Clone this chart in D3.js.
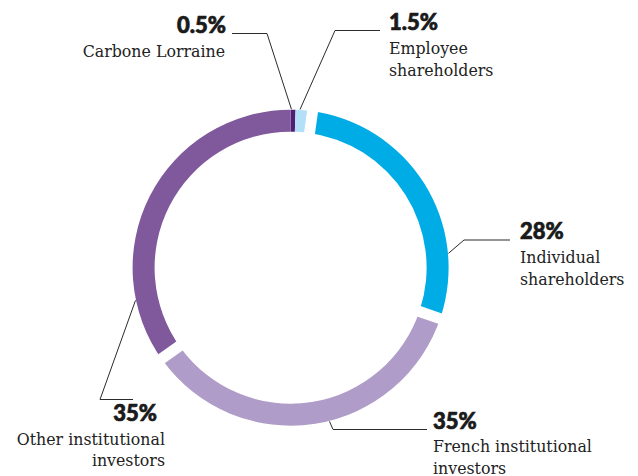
<!DOCTYPE html>
<html>
<head>
<meta charset="utf-8">
<script src="https://cdn.jsdelivr.net/npm/d3@7"></script>
<style>
  html, body { margin: 0; padding: 0; background: #fff; }
  svg { display: block; }
  .pct { font-family: Lato, "Open Sans", sans-serif; font-weight: 900; font-size: 22px; fill: #1a1a1a; stroke: #1a1a1a; stroke-width: 0.7px; }
  .lbl { font-family: "DejaVu Serif", serif; font-size: 15.8px; fill: #222; }
</style>
</head>
<body>
<script>
// ---- data ----
const categories = ["Carbone Lorraine", "Employee shareholders", "Individual shareholders", "French institutional investors", "Other institutional investors"];
const shares = [0.5, 1.5, 28, 35, 35];
const pctLabels = ["0.5%", "1.5%", "28%", "35%", "35%"];
const labelLines = [["Carbone Lorraine"], ["Employee", "shareholders"], ["Individual", "shareholders"], ["French institutional", "investors"], ["Other institutional", "investors"]];
const colors = ["#4e1f73", "#b3dff7", "#00ace6", "#b09cc8", "#80589c"];

// ---- layout ----
const W = 638, H = 476;
const cx = 290.6, cy = 267.7, rOuter = 158, rInner = 136;
const gapAfter = [false, true, true, true, false]; // white separators after these slices
const gapShift = 0.8 * Math.PI / 180;

// label layout: leader angle (deg), elbow, horizontal end, text anchor
const labelLayout = [
  { ang: 0.3, elbow: [267, 33.5], hEnd: [232, 33.5], anchor: "end", pct: [226, 33], lines: [225, 57], lh: 22 },
  { ang: 3.4, elbow: [335, 30.5], hEnd: [380, 30.5], anchor: "start", pct: [389, 30], lines: [389, 54], lh: 21.5 },
  { ang: 84.8, elbow: [464, 240], hEnd: [510, 240], anchor: "start", pct: [520, 239], lines: [520, 263], lh: 21.5 },
  { ang: 165.8, elbow: [333, 429.5], hEnd: [427, 429.5], anchor: "start", pct: [433, 429], lines: [433, 452], lh: 21.5 },
  { ang: 258.1, elbow: [100, 399.5], hEnd: [133, 399.5], anchor: "end", pct: [157, 421], lines: [165, 445], lh: 21 }
];

const svg = d3.select("body").append("svg").attr("width", W).attr("height", H);
const g = svg.append("g").attr("transform", `translate(${cx},${cy})`);

const pie = d3.pie().sort(null).value(d => d).startAngle(0).endAngle(2 * Math.PI);
const arcs = pie(shares);
const arc = d3.arc().innerRadius(rInner).outerRadius(rOuter);

g.selectAll("path.slice").data(arcs).enter().append("path")
  .attr("class", "slice")
  .attr("d", arc)
  .attr("fill", (d, i) => colors[i]);

// white separators
arcs.forEach((d, i) => {
  if (!gapAfter[i]) return;
  const a = d.endAngle + gapShift;
  g.append("line")
    .attr("x1", Math.sin(a) * (rInner - 3)).attr("y1", -Math.cos(a) * (rInner - 3))
    .attr("x2", Math.sin(a) * (rOuter + 3)).attr("y2", -Math.cos(a) * (rOuter + 3))
    .attr("stroke", "#fff").attr("stroke-width", 11);
});

// leaders and labels
labelLayout.forEach((L, i) => {
  const a = L.ang * Math.PI / 180;
  const px = cx + Math.sin(a) * (rOuter + 0.5), py = cy - Math.cos(a) * (rOuter + 0.5);
  svg.append("polyline")
    .attr("points", [[px, py], L.elbow, L.hEnd].map(p => p.join(",")).join(" "))
    .attr("fill", "none").attr("stroke", "#2b2b2b").attr("stroke-width", 1);
  svg.append("text").attr("class", "pct")
    .attr("x", L.pct[0]).attr("y", L.pct[1])
    .attr("text-anchor", L.anchor).text(pctLabels[i]);
  const t = svg.append("text").attr("class", "lbl").attr("text-anchor", L.anchor);
  labelLines[i].forEach((s, j) => {
    t.append("tspan").attr("x", L.lines[0]).attr("y", L.lines[1] + j * L.lh).text(s);
  });
});
</script>
</body>
</html>
